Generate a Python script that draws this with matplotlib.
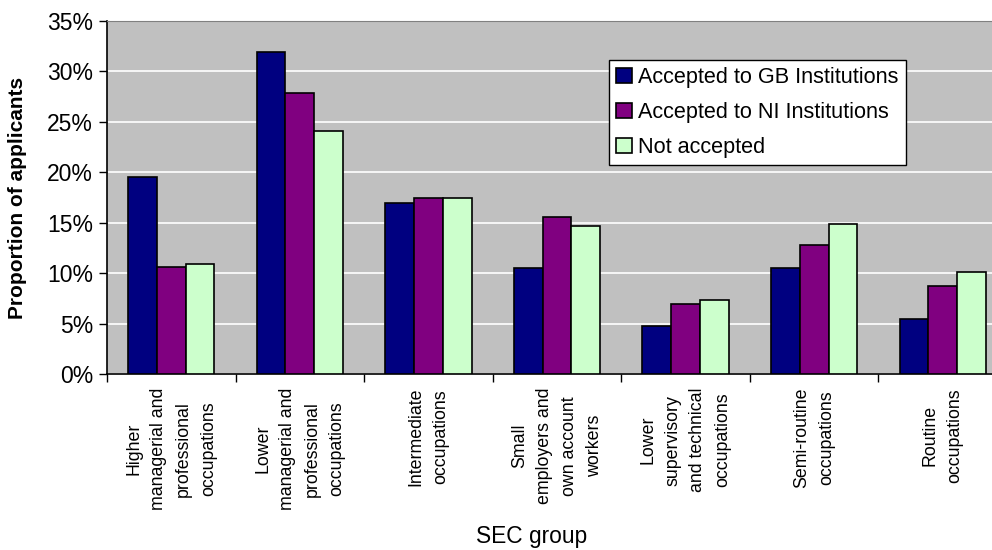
import numpy as np
import matplotlib.pyplot as plt
from matplotlib.ticker import PercentFormatter

plt.rcParams['font.family'] = ['Liberation Sans', 'DejaVu Sans']

groups = ['Higher\nmanagerial and\nprofessional\noccupations',
          'Lower\nmanagerial and\nprofessional\noccupations',
          'Intermediate\noccupations',
          'Small\nemployers and\nown account\nworkers',
          'Lower\nsupervisory\nand technical\noccupations',
          'Semi-routine\noccupations',
          'Routine\noccupations']
gb = [19.5, 31.9, 17.0, 10.5, 4.8, 10.5, 5.5]
ni = [10.6, 27.9, 17.5, 15.6, 6.9, 12.8, 8.7]
notacc = [10.9, 24.1, 17.5, 14.7, 7.3, 14.9, 10.1]
series = ['Accepted to GB Institutions', 'Accepted to NI Institutions', 'Not accepted']
colors = ['#000080', '#800080', '#CCFFCC']

fig = plt.figure(figsize=(9.92, 5.5), dpi=100)
# plot area runs past the right edge of the picture, as in the reference
ax = fig.add_axes([107 / 992, 176 / 550, 900 / 992, 353 / 550])
ax.set_facecolor('#C0C0C0')

x = np.arange(len(groups))
w = 0.224
for i, (vals, c, lab) in enumerate(zip([gb, ni, notacc], colors, series)):
    ax.bar(x + (i - 1) * w, vals, w, color=c, edgecolor='black', linewidth=1.2,
           label=lab, zorder=3)

ax.set_ylim(0, 35)
ax.set_xlim(-0.5, len(groups) - 0.5)
ax.set_yticks(np.arange(0, 36, 5))
ax.yaxis.set_major_formatter(PercentFormatter(decimals=0))
ax.yaxis.grid(True, color='white', linewidth=1.2, zorder=0)
ax.tick_params(axis='y', labelsize=16.5, length=6, direction='out', width=1, pad=4)

ax.set_xticks(np.arange(-0.5, len(groups), 1))
ax.set_xticklabels([])
ax.tick_params(axis='x', which='major', length=6, width=1)
ax.set_xticks(x, minor=True)
ax.set_xticklabels(groups, minor=True, rotation=90, ha='center', va='top',
                   multialignment='center', fontsize=12.8, linespacing=1.6)
ax.tick_params(axis='x', which='minor', length=0, pad=10)

for s in ['top', 'right']:
    ax.spines[s].set_color('#808080')
for s in ['left', 'bottom']:
    ax.spines[s].set_color('black')
    ax.spines[s].set_linewidth(1.2)

ax.set_ylabel('Proportion of applicants', fontsize=15, fontweight='bold')
ax.yaxis.set_label_coords(-0.089, 0.5)
fig.text(532 / 992, 1 - 537 / 550, 'SEC group', ha='center', va='center', fontsize=16.4)

leg = ax.legend(loc='upper left', bbox_to_anchor=(0.558, 0.89), fontsize=15.6,
                frameon=True, fancybox=False, edgecolor='black', framealpha=1,
                handlelength=0.7, handleheight=0.7, handletextpad=0.3,
                borderpad=0.33, labelspacing=0.64, borderaxespad=0)
leg.get_frame().set_linewidth(1)

plt.savefig('out.png', dpi=100)
